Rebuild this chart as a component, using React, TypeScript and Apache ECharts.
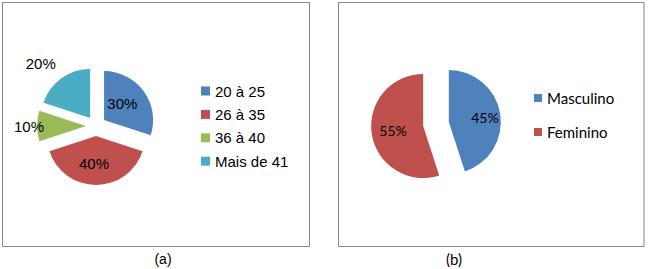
import React, { useEffect, useRef } from "react";
import * as echarts from "echarts";

const ageCategories = ["20 à 25", "26 à 35", "36 à 40", "Mais de 41"];
const ageValues = [30, 40, 10, 20];
const sexCategories = ["Masculino", "Feminino"];
const sexValues = [45, 55];
const panelLabels = ["(a)", "(b)"];

const officeColors = ["#4F81BD", "#C0504D", "#9BBB59", "#4BACC6"];

export default function App() {
  const ref = useRef<HTMLDivElement>(null);
  useEffect(() => {
    const chart = echarts.init(ref.current!, null, { renderer: "svg" });

    const ageLabelPlacement: any[] = [
      { label: { position: "inside", padding: [14, 8, 0, 0] } },
      { label: { position: "inside", padding: [4, 4, 0, 0] } },
      { label: { position: "outside", distanceToLabelLine: -7 }, labelLine: { show: false, length: 0, length2: 0 } },
      { label: { position: "outside", distanceToLabelLine: -5 }, labelLine: { show: false, length: 18, length2: 0 } },
    ];
    const sexLabelPlacement: any[] = [
      { label: { position: "inside", padding: [0, 0, 0, 15] } },
      { label: { position: "inside", padding: [5, 3, 0, 0] } },
    ];

    const ageData = ageCategories.map((name, i) => ({
      name,
      value: ageValues[i],
      selected: true,
      itemStyle: { color: officeColors[i] },
      ...ageLabelPlacement[i],
    }));
    const sexData = sexCategories.map((name, i) => ({
      name,
      value: sexValues[i],
      selected: true,
      itemStyle: { color: officeColors[i] },
      ...sexLabelPlacement[i],
    }));

    const option: any = {
      animation: false,
      graphic: [
        {
          type: "rect",
          shape: { x: 2.5, y: 2.5, width: 307, height: 244 },
          style: { fill: "none", stroke: "#868686", lineWidth: 1 },
        },
        {
          type: "rect",
          shape: { x: 338.5, y: 2.5, width: 305.5, height: 244 },
          style: { fill: "none", stroke: "#868686", lineWidth: 1 },
        },
        {
          type: "text",
          x: 163,
          y: 259,
          style: {
            text: panelLabels[0],
            align: "center",
            verticalAlign: "middle",
            font: "14px 'Liberation Sans', Arial, sans-serif",
            fill: "#000",
          },
        },
        {
          type: "text",
          x: 454,
          y: 259,
          style: {
            text: panelLabels[1],
            align: "center",
            verticalAlign: "middle",
            font: "15px Lato, sans-serif",
            fill: "#000",
          },
        },
      ],
      legend: [
        {
          orient: "vertical",
          left: 201,
          top: 82.5,
          padding: 0,
          data: ageCategories,
          icon: "rect",
          itemWidth: 9,
          itemHeight: 9,
          itemGap: 6.4,
          selectedMode: false,
          textStyle: { fontFamily: "'Liberation Sans', Arial, sans-serif", fontSize: 15, lineHeight: 17, color: "#000" },
        },
        {
          orient: "vertical",
          left: 534,
          top: 89.5,
          padding: 0,
          data: sexCategories,
          icon: "rect",
          itemWidth: 8,
          itemHeight: 8,
          itemGap: 17,
          selectedMode: false,
          textStyle: { fontFamily: "Lato, sans-serif", fontSize: 15, lineHeight: 17, color: "#000" },
        },
      ],
      series: [
        {
          type: "pie",
          center: [96, 126],
          radius: 49,
          startAngle: 90,
          clockwise: true,
          selectedMode: "multiple",
          selectedOffset: 10,
          avoidLabelOverlap: false,
          emphasis: { disabled: true },
          label: {
            position: "inside",
            formatter: "{c}%",
            color: "#000",
            fontFamily: "'Liberation Sans', Arial, sans-serif",
            fontSize: 15,
          },
          labelLine: { show: false },
          data: ageData,
        },
        {
          type: "pie",
          center: [436, 124],
          radius: 52,
          startAngle: 90,
          clockwise: true,
          selectedMode: "multiple",
          selectedOffset: 13,
          avoidLabelOverlap: false,
          emphasis: { disabled: true },
          label: {
            position: "inside",
            formatter: "{c}%",
            color: "#000",
            fontFamily: "Lato, sans-serif",
            fontSize: 14,
          },
          labelLine: { show: false },
          data: sexData,
        },
      ],
    };
    chart.setOption(option);
    return () => chart.dispose();
  }, []);
  return (
    <div
      ref={ref}
      style={{ position: "absolute", left: 0, top: 0, width: 648, height: 269, background: "#fff" }}
    />
  );
}
